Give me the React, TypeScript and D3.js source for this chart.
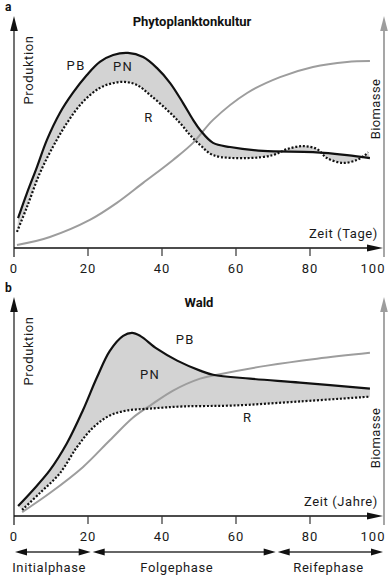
import React from "react";
import * as d3 from "d3";

type Pt = [number, number];

const xTicks = [0, 20, 40, 60, 80, 100];

// Panel a: Phytoplanktonkultur (x: Tage, y: relative units 0-100)
const pbA: Pt[] = [
  [1.1, 13.0], [3.5, 23.9], [6.2, 35.2], [8.9, 47.0], [12.4, 58.7], [15.9, 67.4],
  [19.7, 75.2], [23.2, 80.9], [26.8, 83.9], [30.8, 84.8], [34.9, 83.0], [38.6, 78.3],
  [42.2, 71.7], [45.7, 63.0], [48.4, 55.7], [50.3, 51.3], [53.8, 45.7], [58.4, 43.9],
  [67.3, 42.2], [80.8, 41.7], [90.0, 40.4], [96.2, 39.1],
];
const rA: Pt[] = [
  [0.8, 7.0], [3.5, 17.8], [7.0, 32.6], [10.5, 43.9], [14.3, 54.3], [18.6, 63.5],
  [23.2, 69.6], [26.8, 71.7], [30.0, 72.2], [33.2, 70.9], [36.8, 66.5], [41.4, 60.0],
  [44.9, 54.3], [47.6, 49.1], [50.3, 44.8], [53.8, 40.4], [63.0, 39.1], [70.0, 40.4],
  [73.8, 43.0], [78.1, 44.3], [81.9, 43.0], [84.6, 39.1], [88.9, 37.0], [92.7, 38.3],
  [94.9, 40.4], [95.7, 41.7],
];
const bioA: Pt[] = [
  [0.8, 1.3], [9.7, 4.8], [20.5, 12.2], [27.8, 19.6], [34.9, 28.3], [43.0, 38.3],
  [48.4, 45.7], [53.8, 55.7], [63.0, 67.4], [71.9, 74.3], [80.8, 78.7], [90.0, 80.9],
  [96.2, 81.3],
];

// Panel b: Wald (x: Jahre)
const pbB: Pt[] = [
  [1.1, 4.6], [5.1, 11.9], [9.7, 21.1], [14.3, 33.5], [18.6, 48.6], [22.4, 63.8],
  [25.9, 76.1], [29.5, 83.0], [31.9, 84.4], [34.1, 83.0], [38.6, 77.1], [44.1, 71.6],
  [50.3, 67.0], [53.8, 65.1], [63.8, 63.3], [77.3, 61.5], [96.2, 58.7],
];
const rB: Pt[] = [
  [2.2, 2.8], [7.0, 10.6], [12.4, 19.7], [17.0, 31.7], [21.4, 40.8], [25.9, 46.3],
  [30.5, 48.6], [36.8, 49.5], [45.7, 50.5], [59.2, 50.9], [77.3, 52.8], [96.2, 55.0],
];
const bioB: Pt[] = [
  [2.2, 1.8], [9.7, 10.6], [18.6, 22.5], [25.9, 34.9], [32.2, 45.4], [36.8, 50.9],
  [43.0, 57.8], [50.3, 63.3], [54.9, 65.1], [68.4, 69.3], [81.9, 72.5], [96.2, 75.2],
];

// curve labels: [text, x, y] in data units
const labelsA: [string, number, number][] = [
  ["PB", 16.8, 77.4], ["PN", 29.5, 77.0], ["R", 36.5, 54.8],
];
const labelsB: [string, number, number][] = [
  ["PB", 46.3, 79.4], ["PN", 36.8, 63.0], ["R", 63.2, 43.1],
];

const phaseNames = ["Initialphase", "Folgephase", "Reifephase"];
const phaseStart = [0, 21, 71];
const phaseEnd = [21, 71, 100];
const phaseLabelX = [9.5, 44, 85];

const FONT = "Roboto, 'DejaVu Sans', sans-serif";
const FILL = "#d3d3d3";
const GRAY = "#9d9d9d";
const INK = "#111";
const TXT = "#1a1a1a";

const x = d3.scaleLinear().domain([0, 100]).range([14, 384]);

const line = d3
  .line<Pt>()
  .curve(d3.curveCatmullRom.alpha(0.5));

function Arrow({ tx, ty, dir, color, len = 15, hw = 3.8 }: { tx: number; ty: number; dir: "up" | "right" | "left"; color: string; len?: number; hw?: number }) {
  let pts: string;
  if (dir === "up") pts = `${tx},${ty} ${tx - hw},${ty + len} ${tx + hw},${ty + len}`;
  else if (dir === "right") pts = `${tx},${ty} ${tx - len},${ty - hw} ${tx - len},${ty + hw}`;
  else pts = `${tx},${ty} ${tx + len},${ty - hw} ${tx + len},${ty + hw}`;
  return <polygon points={pts} fill={color} />;
}

function Panel({
  letter, title, titleX, timeLabel, pb, r, bio, labels, axisY, topY, bioLabelY,
}: {
  letter: string; title: string; titleX: number; timeLabel: string; pb: Pt[]; r: Pt[]; bio: Pt[];
  labels: [string, number, number][]; axisY: number; topY: number; bioLabelY: number;
}) {
  const y = d3.scaleLinear().domain([0, 100]).range([axisY, topY + 2]);
  const toPx = (pts: Pt[]): Pt[] => pts.map(([a, b]) => [x(a), y(b)]);
  const pbPath = line(toPx(pb)) as string;
  const rPath = line(toPx(r)) as string;
  const rRev = line(toPx(r).slice().reverse()) as string;
  const fillPath = pbPath + "L" + rRev.slice(1) + "Z";
  const bioPath = line(toPx(bio)) as string;
  const x0 = x(0);
  const x1 = x(100);
  return (
    <g>
      <text x={5} y={topY - 5} fontFamily={FONT} fontWeight="bold" fontSize={12} fill={INK}>{letter}</text>
      <text x={titleX} y={topY + 10} textAnchor="middle" fontFamily={FONT} fontWeight="bold" fontSize={13} fill={INK}>{title}</text>
      {/* fill between PB and R */}
      <path d={fillPath} fill={FILL} stroke="none" />
      <path d={bioPath} fill="none" stroke={GRAY} strokeWidth={2} />
      <path d={pbPath} fill="none" stroke={INK} strokeWidth={2.2} />
      <path d={rPath} fill="none" stroke={INK} strokeWidth={2.2} strokeDasharray="2 1.8" />
      {labels.map(([t, a, b]) => (
        <text key={t} x={x(a)} y={y(b)} textAnchor="middle" fontFamily={FONT} fontSize={13} letterSpacing={1.5} fill={TXT}>{t}</text>
      ))}
      {/* left axis */}
      <line x1={x0} x2={x0} y1={topY + 10} y2={axisY + 9} stroke="#444" strokeWidth={1.5} />
      <Arrow tx={x0} ty={topY} dir="up" color={INK} />
      {/* right axis */}
      <line x1={x1} x2={x1} y1={topY + 10} y2={axisY + 9} stroke={GRAY} strokeWidth={1.8} />
      <Arrow tx={x1} ty={topY} dir="up" color={GRAY} />
      {/* x axis */}
      <line x1={x0} x2={x1 - 10} y1={axisY} y2={axisY} stroke={INK} strokeWidth={1.5} />
      <Arrow tx={x1 - 1} ty={axisY} dir="right" color={INK} len={16} hw={3.5} />
      {xTicks.slice(1, -1).map((t) => (
        <line key={t} x1={x(t)} x2={x(t)} y1={axisY} y2={axisY + 8} stroke="#333" strokeWidth={1.2} />
      ))}
      {xTicks.map((t) => (
        <text key={t} x={t === 0 ? x(t) : t === 100 ? x(t) - 11 : x(t)} y={axisY + 25} textAnchor="middle" fontFamily={FONT} fontSize={13} letterSpacing={1} fill={TXT}>{t}</text>
      ))}
      <text x={378} y={axisY - 10} textAnchor="end" fontFamily={FONT} fontSize={13} letterSpacing={0.6} fill={TXT}>{timeLabel}</text>
      <text transform={`translate(33,${topY + 54}) rotate(-90)`} textAnchor="middle" fontFamily={FONT} fontSize={13} letterSpacing={0.6} fill={TXT}>Produktion</text>
      <text transform={`translate(380,${bioLabelY}) rotate(-90)`} textAnchor="middle" fontFamily={FONT} fontSize={13} letterSpacing={0.4} fill={TXT}>Biomasse</text>
    </g>
  );
}

export default function App() {
  const phaseY = 552;
  return (
    <svg width={390} height={578} style={{ position: "absolute", left: 0, top: 0, background: "#fff" }}>
      <rect width={390} height={578} fill="#fff" />
      <Panel letter="a" title="Phytoplanktonkultur" titleX={192} timeLabel="Zeit (Tage)" pb={pbA} r={rA} bio={bioA} labels={labelsA} axisY={248} topY={16} bioLabelY={109} />
      <Panel letter="b" title="Wald" titleX={199} timeLabel="Zeit (Jahre)" pb={pbB} r={rB} bio={bioB} labels={labelsB} axisY={516} topY={297} bioLabelY={438} />
      {phaseNames.map((n, i) => {
        const a = x(phaseStart[i]) + 1;
        const b = x(phaseEnd[i]) - 1;
        return (
          <g key={n}>
            <line x1={a + 8} x2={b - 8} y1={phaseY} y2={phaseY} stroke="#333" strokeWidth={1.5} />
            <Arrow tx={a} ty={phaseY} dir="left" color={INK} len={12} hw={3.5} />
            <Arrow tx={b} ty={phaseY} dir="right" color={INK} len={12} hw={3.5} />
            <text x={x(phaseLabelX[i])} y={572} textAnchor="middle" fontFamily={FONT} fontSize={13} letterSpacing={0.6} fill={TXT}>{n}</text>
          </g>
        );
      })}
    </svg>
  );
}
